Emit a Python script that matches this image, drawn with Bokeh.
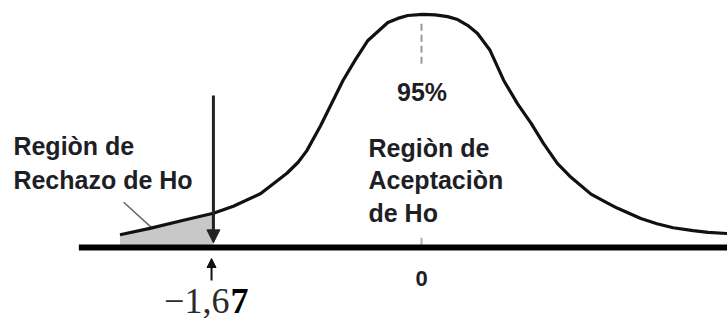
from bokeh.plotting import figure
from bokeh.models import Range1d, Arrow, NormalHead
from bokeh.core.properties import value
from bokeh.embed import file_html
from bokeh.resources import INLINE

# ---- data (z units, density) ----
curve_z = [-2.42, -2.18, -1.91, -1.67, -1.51, -1.29, -1.08, -0.99, -0.92, -0.81, -0.63,
           -0.53, -0.43, -0.27, -0.19, -0.11, 0.01, 0.11, 0.21, 0.29, 0.37, 0.45,
           0.55, 0.66, 0.77, 0.88, 0.98, 1.09, 1.20, 1.36, 1.49, 1.57,
           1.76, 1.89, 2.02, 2.18, 2.30, 2.46]
curve_d = [0.022, 0.033, 0.047, 0.059, 0.071, 0.093, 0.128, 0.147, 0.167, 0.210, 0.288,
           0.324, 0.357, 0.388, 0.395, 0.400, 0.402, 0.401, 0.398, 0.393, 0.383, 0.369,
           0.340, 0.288, 0.248, 0.214, 0.179, 0.145, 0.121, 0.092, 0.077, 0.068,
           0.050, 0.041, 0.034, 0.029, 0.026, 0.024]

crit = -1.67           # critical value
center = 0.0           # mean
crit_label_a = "\u22121,6"
crit_label_b = "7"
center_label = "0"
pct_label = "95%"
left_label = ["Regiòn de", "Rechazo de Ho"]
mid_label = ["Regiòn de", "Aceptaciòn", "de Ho"]

axis_start, axis_end = -2.75, 2.46
arrow_top, arrow_tip = 0.262, 0.008
up_arrow_from, up_arrow_to = -0.057, -0.019
peak_dash_top, peak_dash_bottom = 0.39, 0.317
leader_z = [-2.39, -2.16]
leader_d = [0.078, 0.033]

p = figure(width=727, height=320, output_backend="svg", toolbar_location=None,
           x_range=Range1d(-3.3788, 2.4559), y_range=Range1d(-0.12586, 0.42586),
           x_axis_type=None, y_axis_type=None, min_border=0,
           outline_line_color=None, background_fill_color="white")
p.grid.visible = False

# shaded rejection region
shade_z = [z for z in curve_z if z <= crit]
shade_d = [d for z, d in zip(curve_z, curve_d) if z <= crit]
p.varea(x=shade_z, y1=[0] * len(shade_z), y2=shade_d, fill_color="#c8c8c8")

# leader line
p.line(leader_z, leader_d, line_color="#666666", line_width=1.5)

# dashed centre line
p.line([center, center], [peak_dash_bottom, peak_dash_top], line_color="#9a9a9a",
       line_width=2, line_dash="7 4")
p.line([center, center], [0, 0.017], line_color="#b0b0b0", line_width=2)

# curve
p.line(curve_z, curve_d, line_color="#111111", line_width=3.2, line_join="round")

# baseline
p.line([axis_start, axis_end], [0, 0], line_color="#000000", line_width=6)

# arrows
p.add_layout(Arrow(end=NormalHead(size=13, fill_color="#222222", line_color="#222222"),
                   x_start=crit, y_start=arrow_top, x_end=crit, y_end=arrow_tip,
                   line_color="#222222", line_width=3))
p.add_layout(Arrow(end=NormalHead(size=9, fill_color="#111111", line_color="#111111"),
                   x_start=crit - 0.015, y_start=up_arrow_from, x_end=crit - 0.015,
                   y_end=up_arrow_to, line_color="#111111", line_width=2))

txt_color = "#1e1e26"
sans = value("Liberation Sans")
shift = -10  # compensates the renderer's baseline placement

# labels
p.text(x=[center], y=[0], text=[pct_label], x_offset=0.5, y_offset=-146 + shift,
       text_font=sans, text_font_style="bold", text_font_size="25px",
       text_color=txt_color, text_align="center", text_baseline="alphabetic")
p.text(x=[center], y=[0], text=[center_label], x_offset=0, y_offset=41 + shift,
       text_font=sans, text_font_style="bold", text_font_size="22px",
       text_color=txt_color, text_align="center", text_baseline="alphabetic")

for i, t in enumerate(left_label):
    p.text(x=[crit], y=[0], text=[t], x_offset=-200, y_offset=-92 + 34 * i + shift,
           text_font=sans, text_font_style="bold", text_font_size="25px",
           text_color=txt_color, text_align="left", text_baseline="alphabetic")
for i, t in enumerate(mid_label):
    p.text(x=[center], y=[0], text=[t], x_offset=-53, y_offset=-90 + 32.5 * i + shift,
           text_font=sans, text_font_style="bold", text_font_size="25px",
           text_color=txt_color, text_align="left", text_baseline="alphabetic")

serif = value("Liberation Serif")
p.text(x=[crit], y=[0], text=[crit_label_a], x_offset=16, y_offset=65 + shift - 2,
       text_font=serif, text_font_size="36px", text_color="#2a2a2a",
       text_align="right", text_baseline="alphabetic")
p.text(x=[crit], y=[0], text=[crit_label_b], x_offset=17, y_offset=65 + shift - 2,
       text_font=serif, text_font_style="bold", text_font_size="36px",
       text_color="#000000", text_align="left", text_baseline="alphabetic")

open("out.html", "w").write(file_html(p, INLINE))
